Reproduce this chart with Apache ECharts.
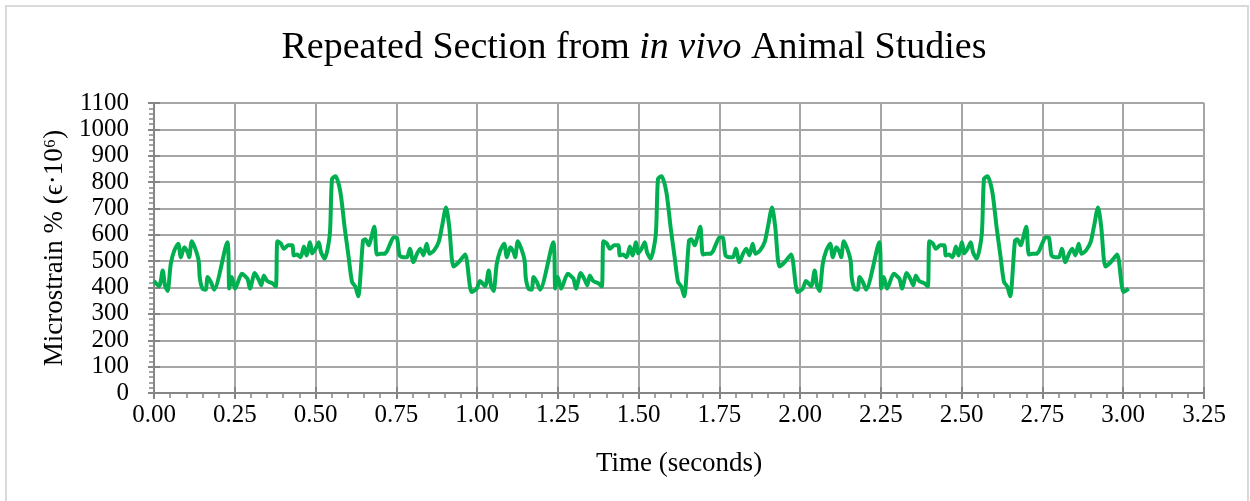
<!DOCTYPE html>
<html>
<head>
<meta charset="utf-8">
<title>Repeated Section from in vivo Animal Studies</title>
<script src="https://cdn.jsdelivr.net/npm/echarts@6/dist/echarts.min.js"></script>
<style>
  html, body { margin: 0; padding: 0; background: #fff; }
  #chart { width: 1250px; height: 501px; }
</style>
</head>
<body>
<div id="chart"></div>
<script>
  // time (s) and microstrain, three repeats of the section
  const times = [
    0.000, 0.016, 0.027, 0.034, 0.042, 0.052, 0.063, 0.075, 0.083, 0.094, 0.104, 0.109, 0.117, 0.128, 0.138, 0.142,
    0.150, 0.160, 0.166, 0.176, 0.186, 0.227, 0.233, 0.241, 0.251, 0.272, 0.289, 0.297, 0.312, 0.325, 0.332, 0.340,
    0.349, 0.356, 0.366, 0.377, 0.382, 0.392, 0.402, 0.415, 0.428, 0.433, 0.443, 0.454, 0.464, 0.472, 0.483, 0.490,
    0.500, 0.510, 0.517, 0.528, 0.544, 0.551, 0.562, 0.577, 0.590, 0.603, 0.613, 0.623, 0.632, 0.647, 0.654, 0.665,
    0.670, 0.682, 0.690, 0.701, 0.713, 0.722, 0.731, 0.742, 0.752, 0.760, 0.771, 0.783, 0.792, 0.803, 0.814, 0.824,
    0.834, 0.844, 0.853, 0.867, 0.881, 0.891, 0.904, 0.914, 0.927, 0.943, 0.963, 0.983, 0.999,
    1.009, 1.025, 1.036, 1.043, 1.051, 1.061, 1.072, 1.084, 1.092, 1.103, 1.113, 1.118, 1.126, 1.137, 1.147, 1.151,
    1.159, 1.169, 1.175, 1.185, 1.195, 1.236, 1.242, 1.250, 1.260, 1.281, 1.298, 1.306, 1.321, 1.334, 1.341, 1.349,
    1.358, 1.365, 1.375, 1.386, 1.391, 1.401, 1.411, 1.424, 1.437, 1.442, 1.452, 1.463, 1.473, 1.481, 1.492, 1.499,
    1.509, 1.519, 1.526, 1.537, 1.553, 1.560, 1.571, 1.586, 1.599, 1.612, 1.622, 1.632, 1.641, 1.656, 1.663, 1.674,
    1.679, 1.691, 1.699, 1.710, 1.722, 1.731, 1.740, 1.751, 1.761, 1.769, 1.780, 1.792, 1.801, 1.812, 1.823, 1.833,
    1.843, 1.853, 1.862, 1.876, 1.890, 1.900, 1.913, 1.923, 1.936, 1.952, 1.972, 1.992, 2.008,
    2.018, 2.034, 2.045, 2.052, 2.060, 2.070, 2.081, 2.093, 2.101, 2.112, 2.122, 2.127, 2.135, 2.146, 2.156, 2.160,
    2.168, 2.178, 2.184, 2.194, 2.204, 2.245, 2.251, 2.259, 2.269, 2.290, 2.307, 2.315, 2.330, 2.343, 2.350, 2.358,
    2.367, 2.374, 2.384, 2.395, 2.400, 2.410, 2.420, 2.433, 2.446, 2.451, 2.461, 2.472, 2.482, 2.490, 2.501, 2.508,
    2.518, 2.528, 2.535, 2.546, 2.562, 2.569, 2.580, 2.595, 2.608, 2.621, 2.631, 2.641, 2.650, 2.665, 2.672, 2.683,
    2.688, 2.700, 2.708, 2.719, 2.731, 2.740, 2.749, 2.760, 2.770, 2.778, 2.789, 2.801, 2.810, 2.821, 2.832, 2.842,
    2.852, 2.862, 2.871, 2.885, 2.899, 2.909, 2.922, 2.932, 2.945, 2.961, 2.981, 3.001, 3.017
  ];

  const strain = [
    425, 405, 465, 408, 387, 491, 541, 566, 515, 553, 534, 515, 576, 547, 503, 434,
    396, 392, 440, 421, 392, 572, 396, 440, 396, 452, 434, 396, 455, 427, 408, 446,
    427, 421, 417, 404, 576, 568, 547, 560, 560, 522, 525, 515, 556, 522, 572, 530,
    547, 572, 534, 509, 600, 812, 822, 761, 629, 510, 421, 404, 367, 578, 583, 560,
    578, 631, 525, 528, 528, 540, 566, 591, 589, 522, 515, 515, 547, 496, 528, 547,
    522, 566, 528, 541, 572, 629, 704, 629, 480, 496, 525, 383, 396,
    425, 405, 465, 408, 387, 491, 541, 566, 515, 553, 534, 515, 576, 547, 503, 434,
    396, 392, 440, 421, 392, 572, 396, 440, 396, 452, 434, 396, 455, 427, 408, 446,
    427, 421, 417, 404, 576, 568, 547, 560, 560, 522, 525, 515, 556, 522, 572, 530,
    547, 572, 534, 509, 600, 812, 822, 761, 629, 510, 421, 404, 367, 578, 583, 560,
    578, 631, 525, 528, 528, 540, 566, 591, 589, 522, 515, 515, 547, 496, 528, 547,
    522, 566, 528, 541, 572, 629, 704, 629, 480, 496, 525, 383, 396,
    425, 405, 465, 408, 387, 491, 541, 566, 515, 553, 534, 515, 576, 547, 503, 434,
    396, 392, 440, 421, 392, 572, 396, 440, 396, 452, 434, 396, 455, 427, 408, 446,
    427, 421, 417, 404, 576, 568, 547, 560, 560, 522, 525, 515, 556, 522, 572, 530,
    547, 572, 534, 509, 600, 812, 822, 761, 629, 510, 421, 404, 367, 578, 583, 560,
    578, 631, 525, 528, 528, 540, 566, 591, 589, 522, 515, 515, 547, 496, 528, 547,
    522, 566, 528, 541, 572, 629, 704, 629, 480, 496, 525, 383, 396
  ];

  const xTicks = { min: 0, max: 3.25, step: 0.25 };
  const yTicks = { min: 0, max: 1100, step: 100 };

  const font = '"Liberation Serif", "DejaVu Serif", serif';
  const gridColor = '#a6a6a6';
  const axisColor = '#868686';

  const chart = echarts.init(document.getElementById('chart'), null, { renderer: 'canvas' });

  const points = times.map((t, i) => [t, strain[i]]);

  chart.setOption({
    backgroundColor: '#fff',
    animation: false,
    graphic: [
      {
        type: 'rect',
        shape: { x: 6, y: 6, width: 1242, height: 520 },
        style: { fill: 'none', stroke: '#d9d9d9', lineWidth: 2 },
        silent: true,
      },
    ],
    title: {
      text: 'Repeated Section from {i|in vivo} Animal Studies',
      left: 629,
      top: 24,
      textAlign: 'center',
      textStyle: {
        fontFamily: font,
        fontSize: 38,
        fontWeight: 'normal',
        color: '#000',
        rich: {
          i: { fontFamily: font, fontSize: 38, fontStyle: 'italic', color: '#000' },
        },
      },
    },
    grid: {
      left: 154,
      right: 46,
      top: 103,
      bottom: 108,
      containLabel: false,
    },
    xAxis: [
      {
        type: 'value',
        min: xTicks.min,
        max: xTicks.max,
        interval: xTicks.step,
        name: 'Time (seconds)',
        nameLocation: 'middle',
        nameGap: 57,
        nameTextStyle: { fontFamily: font, fontSize: 27, color: '#000' },
        axisLine: { show: true, onZero: false, lineStyle: { color: axisColor, width: 2 } },
        axisTick: { show: true, length: 6, lineStyle: { color: axisColor, width: 2 } },
        minorTick: { show: true, splitNumber: 5, length: 5, lineStyle: { color: axisColor, width: 1.5 } },
        axisLabel: {
          fontFamily: font,
          fontSize: 25,
          color: '#000',
          margin: 10,
          formatter: (v) => v.toFixed(2),
        },
        splitLine: { show: true, lineStyle: { color: gridColor, width: 2 } },
      },
      {
        // inside half of the crossing major ticks
        type: 'value',
        position: 'bottom',
        min: xTicks.min,
        max: xTicks.max,
        interval: xTicks.step,
        axisLine: { show: false },
        axisTick: { show: true, inside: true, length: 6, lineStyle: { color: axisColor, width: 2 } },
        axisLabel: { show: false },
        splitLine: { show: false },
      },
    ],
    yAxis: [
      {
        type: 'value',
        min: yTicks.min,
        max: yTicks.max,
        interval: yTicks.step,
        name: 'Microstrain % (ϵ·10⁶)',
        nameLocation: 'middle',
        nameGap: 66,
        nameTextStyle: { fontFamily: font, fontSize: 27, color: '#000' },
        axisLine: { show: true, lineStyle: { color: axisColor, width: 2 } },
        axisTick: { show: true, length: 6, lineStyle: { color: axisColor, width: 2 } },
        minorTick: { show: true, splitNumber: 5, length: 5, lineStyle: { color: axisColor, width: 1.5 } },
        axisLabel: {
          fontFamily: font,
          fontSize: 25,
          color: '#000',
          margin: 25,
          formatter: (v) => String(v),
        },
        splitLine: { show: true, lineStyle: { color: gridColor, width: 2 } },
      },
      {
        type: 'value',
        position: 'left',
        min: yTicks.min,
        max: yTicks.max,
        interval: yTicks.step,
        axisLine: { show: false },
        axisTick: { show: true, inside: true, length: 6, lineStyle: { color: axisColor, width: 2 } },
        axisLabel: { show: false },
        splitLine: { show: false },
      },
    ],
    series: [
      {
        name: 'Microstrain',
        type: 'line',
        data: points,
        smooth: 0.25,
        showSymbol: false,
        lineStyle: { color: '#00b050', width: 4 },
        itemStyle: { color: '#00b050' },
      },
    ],
  });
</script>
</body>
</html>
